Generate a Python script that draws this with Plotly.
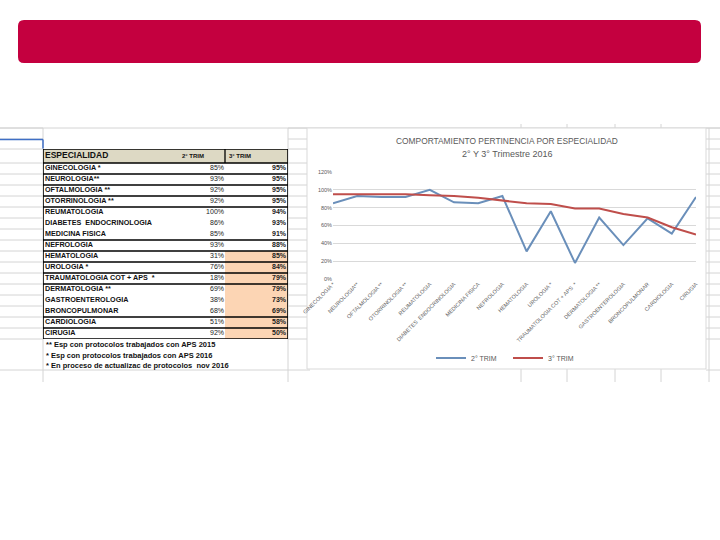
import plotly.graph_objects as go

# datos de la tabla / grafico
especialidades = [
    "GINECOLOGIA *", "NEUROLOGIA**", "OFTALMOLOGIA **", "OTORRINOLOGIA **",
    "REUMATOLOGIA", "DIABETES  ENDOCRINOLOGIA", "MEDICINA FISICA", "NEFROLOGIA",
    "HEMATOLOGIA", "UROLOGIA *", "TRAUMATOLOGIA COT + APS  *", "DERMATOLOGIA **",
    "GASTROENTEROLOGIA", "BRONCOPULMONAR", "CARDIOLOGIA", "CIRUGIA",
]
trim2 = [0.85, 0.93, 0.92, 0.92, 1.00, 0.86, 0.85, 0.93,
         0.31, 0.76, 0.18, 0.69, 0.38, 0.68, 0.51, 0.92]
trim3 = [0.95, 0.95, 0.95, 0.95, 0.94, 0.93, 0.91, 0.88,
         0.85, 0.84, 0.79, 0.79, 0.73, 0.69, 0.58, 0.50]
encabezados = ["ESPECIALIDAD", "2° TRIM", "3° TRIM"]
series = ["2° TRIM", "3° TRIM"]
notas = [
    "** Esp con protocolos trabajados con APS 2015",
    "* Esp con protocolos trabajados con APS 2016",
    "* En proceso de actualizac de protocolos  nov 2016",
]
titulo = ["COMPORTAMIENTO PERTINENCIA POR ESPECIALIDAD", "2° Y 3° Trimestre 2016"]

W, H = 720, 540
FT = "Liberation Sans Narrow, Liberation Sans, Arial"
FC = "Liberation Sans, Arial"
GRIS = "#595959"


def px(x):
    return x / W


def py(y):
    return 1 - y / H


def pt(x, y):
    return f"{px(x)},{py(y)}"


shapes = []

# banda roja superior
x0, y0, x1, y1, r = 18, 20, 701, 63, 6
path = (f"M {pt(x0 + r, y0)} L {pt(x1 - r, y0)} Q {pt(x1, y0)} {pt(x1, y0 + r)} "
        f"L {pt(x1, y1 - r)} Q {pt(x1, y1)} {pt(x1 - r, y1)} L {pt(x0 + r, y1)} "
        f"Q {pt(x0, y1)} {pt(x0, y1 - r)} L {pt(x0, y0 + r)} Q {pt(x0, y0)} {pt(x0 + r, y0)} Z")
shapes.append(dict(type="path", xref="paper", yref="paper", path=path,
                   fillcolor="#C4003F", line=dict(width=0)))

# cuadricula de la hoja de calculo
grid = dict(color="#D4D4D4", width=1)


def hline(y, xa, xb, line=grid, layer="below"):
    shapes.append(dict(type="line", xref="paper", yref="paper", layer=layer,
                       x0=px(xa), x1=px(xb), y0=py(y), y1=py(y), line=line))


def vline(x, ya, yb, line=grid, layer="below"):
    shapes.append(dict(type="line", xref="paper", yref="paper", layer=layer,
                       x0=px(x), x1=px(x), y0=py(ya), y1=py(yb), line=line))


TOP, HEAD, ROW = 149, 14, 11
n = len(especialidades)
filas = [128, 139, TOP, TOP + HEAD] + [TOP + HEAD + ROW * (i + 1) for i in range(n)]
for y in filas:
    hline(y, 0, 43)
    hline(y, 288, 307)
    hline(y, 706, 720)
hline(128, 0, 720)
hline(370, 0, 310)
hline(370, 706, 720)
for x in [43, 288, 709]:
    vline(x, 128, 382)
for x in [521, 567, 615, 661]:
    vline(x, 124, 382)

# celda seleccionada
azul = dict(color="#3F6FC6", width=1.5)
hline(139.5, 0, 43, azul, "above")
vline(43, 139.5, 148.5, azul, "above")

# marco del grafico
shapes.append(dict(type="rect", xref="paper", yref="paper", layer="below",
                   x0=px(307), x1=px(706), y0=py(369), y1=py(128),
                   fillcolor="white", line=dict(color="#D9D9D9", width=1)))

fig = go.Figure()

# ---- tabla (ejes x2/y2 en pixeles) ----
cols = [0, 127, 182, 245]
bordes_y = [0, HEAD] + [HEAD + ROW * (i + 1) for i in range(n)]
centros = [(bordes_y[i] + bordes_y[i + 1]) / 2 for i in range(n + 1)]
z = [[1, 1, 1]] + [[0, 0, 2 if i >= 8 else 0] for i in range(n)]
fig.add_trace(go.Heatmap(
    x=cols, y=bordes_y, z=z, xaxis="x2", yaxis="y2",
    colorscale=[[0, "#FFFFFF"], [0.5, "#DDD9C4"], [1, "#FCD5B4"]],
    zmin=0, zmax=2, showscale=False, hoverinfo="skip",
))
fig.add_trace(go.Scatter(
    x=[2] * n, y=centros[1:], text=[f"<b>{e}</b>" for e in especialidades],
    mode="text", textposition="middle right", xaxis="x2", yaxis="y2",
    textfont=dict(family=FT, size=7.2, color="#111"), showlegend=False,
    hoverinfo="skip", cliponaxis=False,
))
fig.add_trace(go.Scatter(
    x=[181] * n, y=centros[1:], text=[f"{v:.0%}" for v in trim2],
    mode="text", textposition="middle left", xaxis="x2", yaxis="y2",
    textfont=dict(family=FT, size=7, color="#222"), showlegend=False,
    hoverinfo="skip", cliponaxis=False,
))
fig.add_trace(go.Scatter(
    x=[243] * n, y=centros[1:], text=[f"<b>{v:.0%}</b>" for v in trim3],
    mode="text", textposition="middle left", xaxis="x2", yaxis="y2",
    textfont=dict(family=FT, size=7, color="#222"), showlegend=False,
    hoverinfo="skip", cliponaxis=False,
))
fig.add_trace(go.Scatter(
    x=[2, 150, 197], y=[centros[0]] * 3, text=[f"<b>{h}</b>" for h in encabezados],
    mode="text", textposition=["middle right", "middle center", "middle center"],
    xaxis="x2", yaxis="y2", textfont=dict(family=FT, size=[8.5, 6, 6], color="#111"),
    showlegend=False, hoverinfo="skip", cliponaxis=False,
))

negro = dict(color="black", width=1.3)
sin_linea = {4, 5, 11, 12}
shapes.append(dict(type="rect", xref="x2", yref="y2", x0=0, x1=245, y0=0,
                   y1=bordes_y[-1], line=dict(color="black", width=1.6)))
shapes.append(dict(type="line", xref="x2", yref="y2", x0=0, x1=245, y0=HEAD,
                   y1=HEAD, line=dict(color="black", width=1.6)))
shapes.append(dict(type="line", xref="x2", yref="y2", x0=182, x1=182, y0=0,
                   y1=HEAD, line=negro))
for i in range(n - 1):
    if i in sin_linea:
        continue
    yb = bordes_y[i + 2]
    shapes.append(dict(type="line", xref="x2", yref="y2", x0=0, x1=245,
                       y0=yb, y1=yb, line=negro))

# ---- grafico de lineas ----
fig.add_trace(go.Scatter(
    x=especialidades, y=trim2, name=series[0], mode="lines",
    line=dict(color="#6A8FBA", width=2),
))
fig.add_trace(go.Scatter(
    x=especialidades, y=trim3, name=series[1], mode="lines",
    line=dict(color="#BF4E4B", width=2),
))

anns = []
for i, t in enumerate(titulo):
    anns.append(dict(xref="paper", yref="paper", x=px(507), y=py(141 + 13 * i),
                     text=t, showarrow=False, xanchor="center", yanchor="middle",
                     font=dict(family=FC, size=9 if i else 8.4, color=GRIS)))
for i, t in enumerate(notas):
    anns.append(dict(xref="paper", yref="paper", x=px(44), y=py(344.5 + 10.5 * i),
                     text=f"<b>{t}</b>", showarrow=False, xanchor="left",
                     yanchor="middle", font=dict(family=FT, size=7.5, color="#111")))

fig.update_layout(
    width=W, height=H,
    margin=dict(l=0, r=0, t=0, b=0, autoexpand=False),
    paper_bgcolor="white",
    plot_bgcolor="rgba(0,0,0,0)",
    shapes=shapes,
    annotations=anns,
    showlegend=True,
    legend=dict(orientation="h", x=px(508), xanchor="center", y=py(358),
                yanchor="middle", font=dict(family=FC, size=7, color=GRIS),
                bgcolor="rgba(0,0,0,0)", itemwidth=30, entrywidth=32),
    xaxis=dict(domain=[px(333), px(696)], type="category", showgrid=False,
               showline=False, zeroline=False, ticks="", tickangle=-45,
               automargin=False,
               tickfont=dict(family=FC, size=5.5, color="#666666")),
    yaxis=dict(domain=[py(279), py(172)], range=[0, 1.2], dtick=0.2,
               tickformat=".0%", gridcolor="#D9D9D9", zeroline=False,
               showline=False, ticks="", automargin=False,
               tickfont=dict(family=FC, size=5.5, color=GRIS)),
    xaxis2=dict(domain=[px(43), px(288)], range=[0, 245], visible=False,
                fixedrange=True, automargin=False),
    yaxis2=dict(domain=[py(TOP + bordes_y[-1]), py(TOP)], automargin=False,
                range=[bordes_y[-1], 0], visible=False, fixedrange=True),
)

# quitar el margen por defecto del body para que el grafico quede en (0, 0)
fig.write_html("out.html", config={"displayModeBar": False},
               post_script="document.body.style.margin='0';")
